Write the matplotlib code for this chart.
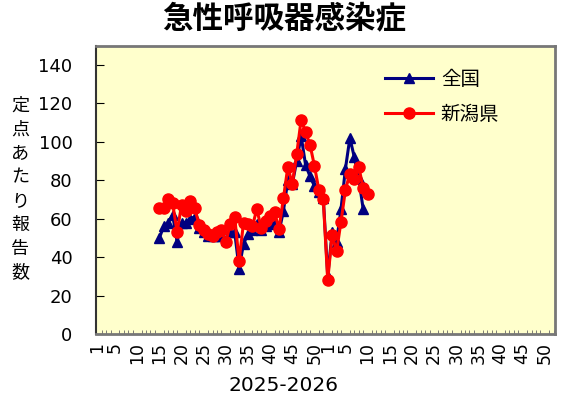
import matplotlib
matplotlib.use("Agg")
import matplotlib.pyplot as plt

plt.rcParams['font.family'] = ['Noto Sans CJK JP', 'DejaVu Sans']

# Weeks (2025 week 15 .. 2026 week 10)
weeks_2025 = list(range(15, 53))
weeks_2026_nat = list(range(1, 10))
weeks_2026_pref = list(range(1, 11))

# 全国
national_2025 = [50, 56, 58, 62, 48, 58, 58, 60, 61, 55, 53, 51, 51, 51, 51, 49, 53, 53, 34, 47,
                 52, 54, 57, 54, 56, 57, 58, 53, 64, 80, 78, 90, 103, 88, 82, 77, 74, 71]
national_2026 = [30, 53, 48, 65, 86, 102, 92, 81, 65]

# 新潟県
niigata_2025 = [65.5, 65.5, 70, 68, 53, 67, 64, 69, 65.5, 56.5, 54, 52, 51, 53, 54, 48, 57, 61, 38, 58,
                57, 56, 65, 55, 59, 61.5, 63.5, 54.5, 70.5, 87, 78, 93.5, 111.5, 105, 98.5, 87.5, 75, 70]
niigata_2026 = [28, 51.5, 43, 58.5, 75, 83.5, 80.5, 87, 76, 73]

tick_weeks = [1, 5, 10, 15, 20, 25, 30, 35, 40, 45, 50]
n_weeks_2025 = 52
n_weeks_2026 = 52


def pos(year_weeks, offset):
    return [w - 1 + offset for w in year_weeks]


x_nat = pos(weeks_2025, 0) + pos(weeks_2026_nat, n_weeks_2025)
x_pref = pos(weeks_2025, 0) + pos(weeks_2026_pref, n_weeks_2025)
y_nat = national_2025 + national_2026
y_pref = niigata_2025 + niigata_2026

fig = plt.figure(figsize=(5.69, 4.15), dpi=100)
ax = fig.add_axes([96 / 569, 1 - 334 / 415, (555 - 96) / 569, (334 - 45.7) / 415])
ax.set_facecolor('#FFFFCC')

ax.plot(x_nat, y_nat, color='#000080', lw=2.2, marker='^', markersize=7, label='全国')
ax.plot(x_pref, y_pref, color='#FF0000', lw=2.2, marker='o', markersize=8, label='新潟県')

ax.set_ylim(0, 150)
ax.set_yticks(range(0, 141, 20))
ax.set_xlim(-0.3, n_weeks_2025 + n_weeks_2026 - 0.7)

major_pos = pos(tick_weeks, 0) + pos(tick_weeks, n_weeks_2025)
major_lab = [str(w) for w in tick_weeks] * 2
ax.set_xticks(major_pos)
ax.set_xticklabels(major_lab, rotation=90, fontsize=12.5, family='DejaVu Sans')
ax.set_xticks(range(0, n_weeks_2025 + n_weeks_2026), minor=True)
ax.tick_params(axis='x', which='major', length=0, pad=6)
ax.tick_params(axis='x', which='minor', direction='in', length=3, color='#666666')
ax.tick_params(axis='y', which='major', direction='in', length=6, labelsize=13, pad=17)
for lab in ax.get_yticklabels():
    lab.set_family('DejaVu Sans')

for side in ['top', 'right', 'bottom']:
    ax.spines[side].set_color('#777777')
    ax.spines[side].set_linewidth(2)
ax.spines['left'].set_color('#333333')
ax.spines['left'].set_linewidth(1.5)

fig.text(0.5, 1 - 18 / 415, '急性呼吸器感染症', ha='center', va='center', fontsize=22, fontweight='bold')
fig.text(283 / 569, 1 - 385 / 415, '2025-2026', ha='center', va='center', fontsize=14.5, family='DejaVu Sans')
fig.text(20 / 569, 1 - 189 / 415, '\n'.join('定点あたり報告数'), ha='center', va='center',
         fontsize=13, linespacing=1.42)

ax.legend(loc='upper left', bbox_to_anchor=(367 / 569, 1 - 51 / 415), bbox_transform=fig.transFigure,
          frameon=False, fontsize=14, handlelength=2.5, labelspacing=0.75, handletextpad=0.4)

fig.savefig('out.png', dpi=100)
